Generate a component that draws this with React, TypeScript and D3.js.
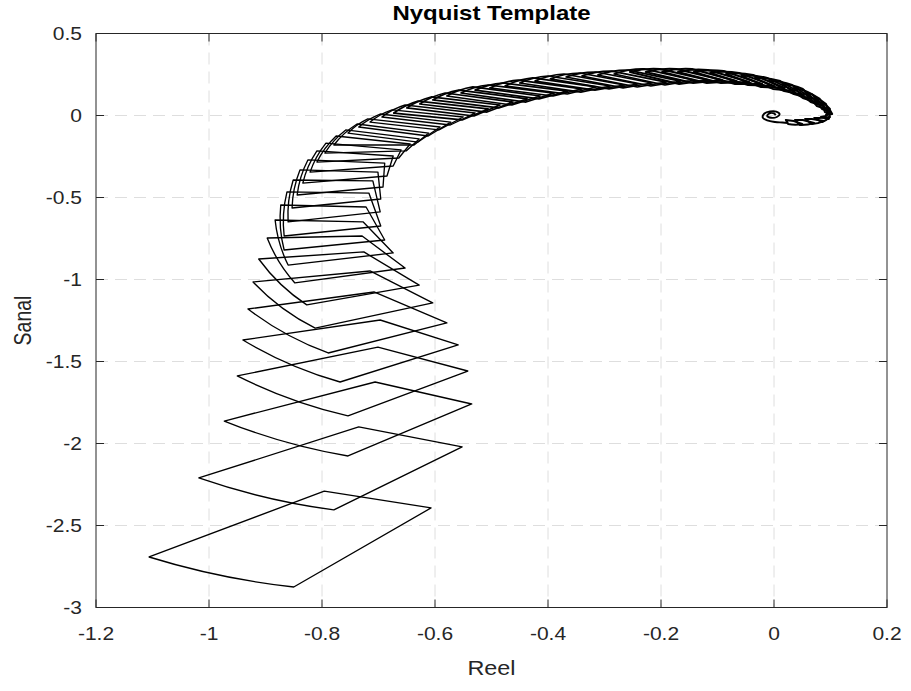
import * as d3 from "d3";

type Pt = [number, number];

const xTicks = [-1.2, -1, -0.8, -0.6, -0.4, -0.2, 0, 0.2];
const xTickLabels = ["-1.2", "-1", "-0.8", "-0.6", "-0.4", "-0.2", "0", "0.2"];
const yTicks = [0.5, 0, -0.5, -1, -1.5, -2, -2.5, -3];
const yTickLabels = ["0.5", "0", "-0.5", "-1", "-1.5", "-2", "-2.5", "-3"];

// template corners, one entry per frequency (low -> high)
const cornerL: Pt[] = [
  [-1.106, -2.692], [-1.018, -2.21], [-0.973, -1.863], [-0.95, -1.588], [-0.94, -1.369],
  [-0.931, -1.18], [-0.922, -1.015], [-0.912, -0.875], [-0.897, -0.747], [-0.883, -0.637],
  [-0.873, -0.546], [-0.862, -0.466], [-0.851, -0.393], [-0.839, -0.332], [-0.825, -0.271],
  [-0.809, -0.216], [-0.793, -0.168], [-0.775, -0.125], [-0.758, -0.088], [-0.738, -0.052],
  [-0.719, -0.021], [-0.697, 0.009], [-0.676, 0.034], [-0.653, 0.064], [-0.63, 0.088],
  [-0.607, 0.113], [-0.582, 0.137], [-0.558, 0.155], [-0.533, 0.174], [-0.506, 0.186],
  [-0.48, 0.198], [-0.453, 0.216], [-0.427, 0.229], [-0.4, 0.241], [-0.372, 0.253],
  [-0.343, 0.259], [-0.315, 0.265], [-0.287, 0.271], [-0.258, 0.277], [-0.23, 0.284],
  [-0.202, 0.284], [-0.173, 0.284], [-0.145, 0.284], [-0.117, 0.277], [-0.089, 0.271],
  [-0.062, 0.259], [-0.037, 0.247], [-0.012, 0.229], [0.011, 0.21], [0.032, 0.186],
  [0.051, 0.162], [0.067, 0.131], [0.081, 0.101], [0.092, 0.07], [0.099, 0.04],
  [0.103, 0.009], [0.097, -0.021], [0.085, -0.04], [0.067, -0.052], [0.046, -0.058],
  [0.025, -0.052],
];

const cornerT: Pt[] = [
  [-0.796, -2.29], [-0.735, -1.899], [-0.706, -1.625], [-0.701, -1.412], [-0.697, -1.247],
  [-0.708, -1.076], [-0.715, -0.948], [-0.726, -0.832], [-0.729, -0.735], [-0.727, -0.649],
  [-0.722, -0.558], [-0.717, -0.473], [-0.71, -0.399], [-0.701, -0.345], [-0.689, -0.29],
  [-0.674, -0.247], [-0.66, -0.21], [-0.644, -0.174], [-0.628, -0.143], [-0.611, -0.107],
  [-0.591, -0.07], [-0.572, -0.04], [-0.55, -0.009], [-0.529, 0.015], [-0.506, 0.04],
  [-0.485, 0.064], [-0.462, 0.082], [-0.437, 0.101], [-0.414, 0.119], [-0.389, 0.137],
  [-0.365, 0.149], [-0.34, 0.162], [-0.315, 0.174], [-0.29, 0.18], [-0.265, 0.186],
  [-0.241, 0.192], [-0.216, 0.198], [-0.191, 0.204], [-0.166, 0.21], [-0.142, 0.216],
  [-0.117, 0.216], [-0.092, 0.216], [-0.067, 0.21], [-0.044, 0.204], [-0.021, 0.192],
  [0.0, 0.18], [0.019, 0.168], [0.037, 0.149], [0.053, 0.125], [0.067, 0.101],
  [0.078, 0.076], [0.087, 0.058], [0.092, 0.04], [0.096, 0.027], [0.097, 0.015],
  [0.092, 0.003], [0.083, -0.009], [0.071, -0.015], [0.055, -0.021], [0.037, -0.027],
  [0.021, -0.027],
];

const cornerR: Pt[] = [
  [-0.607, -2.393], [-0.552, -2.021], [-0.535, -1.759], [-0.542, -1.558], [-0.559, -1.399],
  [-0.579, -1.265], [-0.604, -1.143], [-0.628, -1.034], [-0.653, -0.93], [-0.674, -0.838],
  [-0.689, -0.759], [-0.696, -0.674], [-0.697, -0.588], [-0.696, -0.509], [-0.692, -0.436],
  [-0.685, -0.369], [-0.674, -0.308], [-0.664, -0.259], [-0.651, -0.216], [-0.637, -0.18],
  [-0.63, -0.162], [-0.612, -0.125], [-0.593, -0.088], [-0.573, -0.058], [-0.552, -0.027],
  [-0.531, -0.003], [-0.508, 0.021], [-0.487, 0.046], [-0.464, 0.064], [-0.439, 0.082],
  [-0.416, 0.101], [-0.391, 0.119], [-0.366, 0.131], [-0.342, 0.143], [-0.317, 0.155],
  [-0.292, 0.162], [-0.267, 0.168], [-0.242, 0.174], [-0.218, 0.18], [-0.193, 0.186],
  [-0.168, 0.192], [-0.143, 0.198], [-0.119, 0.198], [-0.094, 0.198], [-0.069, 0.192],
  [-0.046, 0.186], [-0.023, 0.174], [-0.002, 0.162], [0.018, 0.149], [0.035, 0.131],
  [0.051, 0.107], [0.065, 0.082], [0.076, 0.058], [0.085, 0.04], [0.09, 0.021],
  [0.094, 0.015], [0.092, -0.003], [0.08, -0.015], [0.067, -0.021], [0.051, -0.027],
  [0.035, -0.034],
];

const cornerB: Pt[] = [
  [-0.85, -2.875], [-0.779, -2.405], [-0.754, -2.076], [-0.754, -1.832], [-0.768, -1.625],
  [-0.789, -1.448], [-0.812, -1.296], [-0.827, -1.155], [-0.848, -1.021], [-0.86, -0.912],
  [-0.867, -0.82], [-0.867, -0.735], [-0.86, -0.649], [-0.853, -0.564], [-0.844, -0.485],
  [-0.834, -0.412], [-0.821, -0.345], [-0.809, -0.284], [-0.795, -0.229], [-0.779, -0.18],
  [-0.754, -0.107], [-0.735, -0.07], [-0.715, -0.04], [-0.694, -0.009], [-0.673, 0.015],
  [-0.65, 0.046], [-0.627, 0.07], [-0.604, 0.095], [-0.579, 0.119], [-0.554, 0.137],
  [-0.529, 0.155], [-0.503, 0.168], [-0.476, 0.18], [-0.45, 0.198], [-0.423, 0.21],
  [-0.396, 0.223], [-0.368, 0.235], [-0.34, 0.241], [-0.312, 0.247], [-0.283, 0.253],
  [-0.255, 0.265], [-0.227, 0.265], [-0.198, 0.265], [-0.17, 0.265], [-0.142, 0.265],
  [-0.113, 0.259], [-0.085, 0.253], [-0.058, 0.241], [-0.034, 0.229], [-0.009, 0.21],
  [0.014, 0.192], [0.035, 0.168], [0.055, 0.143], [0.071, 0.113], [0.085, 0.082],
  [0.094, 0.052], [0.099, 0.021], [0.099, -0.009], [0.088, -0.034], [0.071, -0.046],
  [0.05, -0.052],
];

// high-frequency tail spiralling into the origin
const tail: Pt[] = [
  [0.025, -0.046], [0.015, -0.043], [0.002, -0.04], [-0.012, -0.03], [-0.02, -0.012],
  [-0.017, 0.012], [-0.007, 0.025], [0.004, 0.024], [0.01, 0.008], [0.005, -0.009],
  [-0.005, -0.014], [-0.012, -0.003], [-0.008, 0.013], [0.0, 0.013], [0.003, 0.002],
];

const W = 911;
const H = 691;
const left = 96;
const right = 887;
const top = 33.5;
const bottom = 607.5;
const font = "'Liberation Sans', Arial, Helvetica, sans-serif";
const stretch = 1.2; // the reference text is drawn wider than it is tall

export default function App() {
  const x = d3.scaleLinear().domain([-1.2, 0.2]).range([left, right]);
  const y = d3.scaleLinear().domain([-3, 0.5]).range([bottom, top]);
  const ox = x(0);
  const oy = y(0);

  const templatePath = (i: number) => {
    const [l, t, r, b] = [cornerL[i], cornerT[i], cornerR[i], cornerB[i]].map(
      (p) => [x(p[0]), y(p[1])] as Pt
    );
    const p = d3.path();
    p.moveTo(l[0], l[1]);
    p.lineTo(t[0], t[1]);
    p.lineTo(r[0], r[1]);
    p.lineTo(b[0], b[1]);
    // the B -> L edge bows outwards, away from the origin
    const mx = (b[0] + l[0]) / 2;
    const my = (b[1] + l[1]) / 2;
    const dx = l[0] - b[0];
    const dy = l[1] - b[1];
    const len = Math.hypot(dx, dy) || 1;
    let nx = -dy / len;
    let ny = dx / len;
    if ((mx - ox) * nx + (my - oy) * ny < 0) {
      nx = -nx;
      ny = -ny;
    }
    const bow = Math.min(len * 0.09, 7);
    p.quadraticCurveTo(mx + nx * bow, my + ny * bow, l[0], l[1]);
    p.closePath();
    return p.toString();
  };

  const tailLine = d3
    .line<Pt>()
    .x((d) => x(d[0]))
    .y((d) => y(d[1]))
    .curve(d3.curveCatmullRom);

  const tick = 8;

  return (
    <svg
      width={W}
      height={H}
      viewBox={`0 0 ${W} ${H}`}
      style={{ position: "absolute", left: 0, top: 0, background: "#fff" }}
    >
      <rect x={0} y={0} width={W} height={H} fill="#fff" />

      {/* grid */}
      <g stroke="#dedede" strokeWidth={1} strokeDasharray="12,7">
        {xTicks.slice(1, -1).map((v) => (
          <line key={"gx" + v} x1={x(v)} x2={x(v)} y1={top} y2={bottom} />
        ))}
        {yTicks.slice(1, -1).map((v) => (
          <line key={"gy" + v} x1={left} x2={right} y1={y(v)} y2={y(v)} />
        ))}
      </g>

      {/* templates */}
      <g fill="none" stroke="#000" strokeLinejoin="round">
        {cornerL.map((_, i) => (
          <path key={"t" + i} d={templatePath(i)} strokeWidth={i < 24 ? 1.35 : i < 40 ? 1.7 : 2} />
        ))}
        <path d={tailLine(tail) ?? ""} strokeWidth={1.9} />
      </g>

      {/* axes box and ticks */}
      <g stroke="#262626" strokeWidth={1}>
        <rect x={left} y={top} width={right - left} height={bottom - top} fill="none" />
        {xTicks.map((v) => (
          <g key={"tx" + v}>
            <line x1={x(v)} x2={x(v)} y1={bottom} y2={bottom - tick} />
            <line x1={x(v)} x2={x(v)} y1={top} y2={top + tick} />
          </g>
        ))}
        {yTicks.map((v) => (
          <g key={"ty" + v}>
            <line x1={left} x2={left + tick} y1={y(v)} y2={y(v)} />
            <line x1={right} x2={right - tick} y1={y(v)} y2={y(v)} />
          </g>
        ))}
      </g>

      <g fontFamily={font} fontSize={17.5} fill="#262626">
        {xTicks.map((v, i) => (
          <text
            key={"lx" + v}
            transform={`translate(${x(v)},${bottom + 32.5}) scale(${stretch},1)`}
            textAnchor="middle"
          >
            {xTickLabels[i]}
          </text>
        ))}
        {yTicks.map((v, i) => (
          <text
            key={"ly" + v}
            transform={`translate(${left - 14},${y(v) + 6.3}) scale(${stretch},1)`}
            textAnchor="end"
          >
            {yTickLabels[i]}
          </text>
        ))}
      </g>

      <text
        transform={`translate(${(left + right) / 2},20) scale(${stretch},1)`}
        textAnchor="middle"
        fontFamily={font}
        fontSize={20}
        fontWeight="bold"
        fill="#000"
      >
        Nyquist Template
      </text>
      <text
        transform={`translate(${(left + right) / 2},675) scale(${stretch},1)`}
        textAnchor="middle"
        fontFamily={font}
        fontSize={19.5}
        fill="#262626"
      >
        Reel
      </text>
      <text
        transform={`translate(31,${(top + bottom) / 2}) scale(${stretch},1) rotate(-90)`}
        textAnchor="middle"
        fontFamily={font}
        fontSize={19.5}
        fill="#262626"
      >
        Sanal
      </text>
    </svg>
  );
}
